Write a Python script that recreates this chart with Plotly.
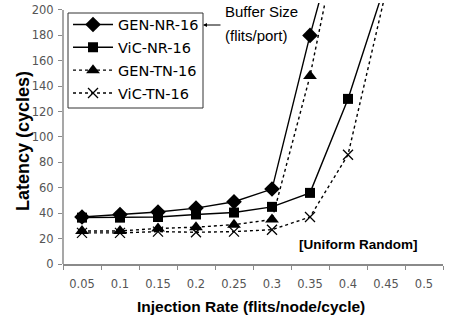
import plotly.graph_objects as go

categories = ["0.05", "0.1", "0.15", "0.2", "0.25", "0.3", "0.35", "0.4", "0.45", "0.5"]
y_ticks = [0, 20, 40, 60, 80, 100, 120, 140, 160, 180, 200]

gen_nr_16 = [37, 39, 41, 44, 49, 59, 180, 289, None, None]
vic_nr_16 = [36.5, 36.5, 37, 39, 40.5, 45, 56, 130, 222, None]
gen_tn_16 = [26, 26, 28, 29, 31, 35, 148, 294, None, None]
vic_tn_16 = [24.5, 24.5, 25.5, 25, 25.5, 27, 37, 86, 215, None]

series = [
    ("GEN-NR-16", gen_nr_16, "solid", "diamond", 12),
    ("ViC-NR-16", vic_nr_16, "solid", "square", 10),
    ("GEN-TN-16", gen_tn_16, "dot", "triangle-up", 12),
    ("ViC-TN-16", vic_tn_16, "dot", "x-thin", 10),
]

fig = go.Figure()
for i, (name, vals, dash, sym, size) in enumerate(series):
    marker = dict(symbol=sym, size=size, color="black")
    if sym == "x-thin":
        marker["line"] = dict(color="black", width=1.3)
    fig.add_trace(go.Scatter(
        x=categories, y=vals, name=name, mode="lines+markers",
        line=dict(color="black", width=1.4, dash=dash),
        marker=marker, connectgaps=False, legendgroup=f"g{i}",
    ))

axis_gray = "#8a8a8a"
fig.update_layout(
    width=453, height=319,
    margin=dict(l=63, r=10, t=3, b=55),
    paper_bgcolor="white", plot_bgcolor="white",
    showlegend=True,
    legend=dict(
        x=0.0132, y=(264 - 8.5) / 261, xanchor="left", yanchor="top",
        bgcolor="rgba(0,0,0,0)", borderwidth=0,
        font=dict(family="DejaVu Sans", size=14.5, color="black"),
        tracegroupgap=1, itemwidth=40,
    ),
    xaxis=dict(
        type="category", categoryorder="array", categoryarray=categories,
        range=[-0.5, 9.5], showline=True, linecolor=axis_gray, linewidth=1.5,
        ticks="outside", ticklen=4, tickcolor=axis_gray, tickwidth=1,
        tickson="boundaries", showgrid=False, zeroline=False,
        tickfont=dict(family="DejaVu Sans", size=11.5, color="#555555"),
        ticklabelstandoff=8,
    ),
    yaxis=dict(
        range=[0, 205.5], tickvals=y_ticks, showline=False,
        ticks="outside", ticklen=4, tickcolor=axis_gray, tickwidth=1,
        showgrid=False, zeroline=False,
        tickfont=dict(family="DejaVu Sans", size=11.5, color="#555555"),
        ticklabelstandoff=2,
    ),
    shapes=[
        dict(type="line", xref="paper", yref="y", x0=0, x1=0, y0=0, y1=200,
             line=dict(color=axis_gray, width=1.5)),
        dict(type="rect", xref="paper", yref="paper", layer="below",
             x0=5 / 380, x1=140 / 380, y0=(264 - 108) / 261, y1=(264 - 13) / 261,
             fillcolor="white", line=dict(color="#333333", width=1)),
    ],
    annotations=[
        dict(text="<b>Latency (cycles)</b>", xref="paper", yref="paper",
             x=-0.1066, y=0.473, xanchor="center", yanchor="middle",
             textangle=-90, showarrow=False,
             font=dict(family="Liberation Sans", size=18, color="black")),
        dict(text="<b>Injection Rate (flits/node/cycle)</b>", xref="paper", yref="paper",
             x=0.496, y=-0.1636, xanchor="center", yanchor="middle", showarrow=False,
             font=dict(family="Liberation Sans", size=15.5, color="black")),
        dict(text="<b>[Uniform Random]</b>", xref="paper", yref="paper",
             x=0.6158, y=0.0766, xanchor="left", yanchor="middle", showarrow=False,
             font=dict(family="Liberation Sans", size=13.5, color="black")),
        dict(text="Buffer Size", xref="paper", yref="paper",
             x=0.421, y=(264 - 12) / 261, xanchor="left", yanchor="middle", showarrow=False,
             font=dict(family="Liberation Sans", size=15, color="black")),
        dict(text="(flits/port)", xref="paper", yref="paper",
             x=0.421, y=(264 - 35) / 261, xanchor="left", yanchor="middle", showarrow=False,
             font=dict(family="Liberation Sans", size=15, color="black")),
        dict(text="", xref="paper", yref="paper",
             x=(203 - 63) / 380, y=(264 - 25) / 261, ax=19, ay=0,
             showarrow=True, arrowhead=2, arrowsize=0.8, arrowwidth=1,
             arrowcolor="black", standoff=0),
    ],
)

fig.write_html("out.html", config={"displayModeBar": False},
               post_script="document.body.style.margin='0px';")
